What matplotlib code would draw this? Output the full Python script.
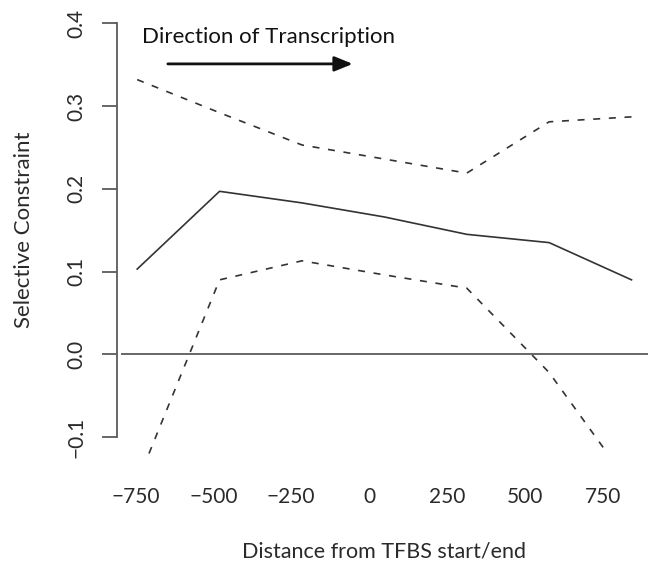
import matplotlib
matplotlib.use("Agg")
import matplotlib.pyplot as plt

# Distance from TFBS start/end (bp) and selective constraint estimates
distance = [-750, -500, -250, 0, 250, 500, 750]
constraint = [0.103, 0.197, 0.183, 0.166, 0.145, 0.135, 0.090]
upper_ci = [0.332, 0.292, 0.253, 0.236, 0.219, 0.281, 0.287]
lower_ci = [-0.155, 0.090, 0.113, 0.096, 0.080, -0.022, -0.160]

# Axis tick labels and where they sit along the x axis
xtick_labels = ["\u2212750", "\u2212500", "\u2212250", "0", "250", "500", "750"]
xtick_pos = [-755.5, -519.1, -282.7, -46.3, 190.1, 426.5, 662.9]
ytick_vals = [-0.1, 0.0, 0.1, 0.2, 0.3, 0.4]
ytick_labels = ["\u22120.1", "0.0", "0.1", "0.2", "0.3", "0.4"]

plt.rcParams["font.family"] = ["Lato", "DejaVu Sans"]

W, H = 651, 567
fig = plt.figure(figsize=(W / 100, H / 100), dpi=100)
ax = fig.add_axes([120.7 / W, 1 - 453.6 / H, (648 - 120.7) / W, (453.6 - 6.8) / H])

line_col = "#333333"
axis_col = "#5a5a5a"
text_col = "#2a2a2a"

ax.plot(distance, constraint, color=line_col, lw=1.2)
ax.plot(distance, upper_ci, color=line_col, lw=1.2, linestyle=(0, (4.2, 5.2)))
ax.plot(distance, lower_ci, color=line_col, lw=1.2, linestyle=(0, (4.2, 5.2)))
ax.axhline(0, color=axis_col, lw=1.3)

ax.set_xlim(-800, 800)
ax.set_ylim(-0.12, 0.42)

for s in ("top", "right", "bottom"):
    ax.spines[s].set_visible(False)
ax.spines["left"].set_position(("outward", 2.5))
ax.spines["left"].set_bounds(-0.1, 0.4)
ax.spines["left"].set_color(axis_col)
ax.spines["left"].set_linewidth(1.3)

ax.set_yticks(ytick_vals)
ax.set_yticklabels(ytick_labels, rotation=90, va="center")
ax.tick_params(axis="y", length=10.5, width=1.3, color=axis_col,
               pad=12, labelsize=15, labelcolor=text_col)

ax.set_xticks(xtick_pos)
ax.set_xticklabels(xtick_labels)
ax.tick_params(axis="x", length=0, pad=24, labelsize=15, labelcolor=text_col)

ax.set_xlabel("Distance from TFBS start/end", fontsize=15.5, color=text_col, labelpad=25)
ax.set_ylabel("Selective Constraint", fontsize=16, color=text_col, labelpad=23)

# Transcription direction annotation
ax.text(-353, 0.384, "Direction of Transcription", fontsize=16, color="#111111",
        ha="center", va="center")
ax.annotate("", xy=(-96, 0.351), xytext=(-657, 0.351),
            arrowprops=dict(arrowstyle="-|>,head_length=1.1,head_width=0.45",
                            color="#111111", lw=2.0, shrinkA=0, shrinkB=0))

fig.savefig("out.png", dpi=100)
